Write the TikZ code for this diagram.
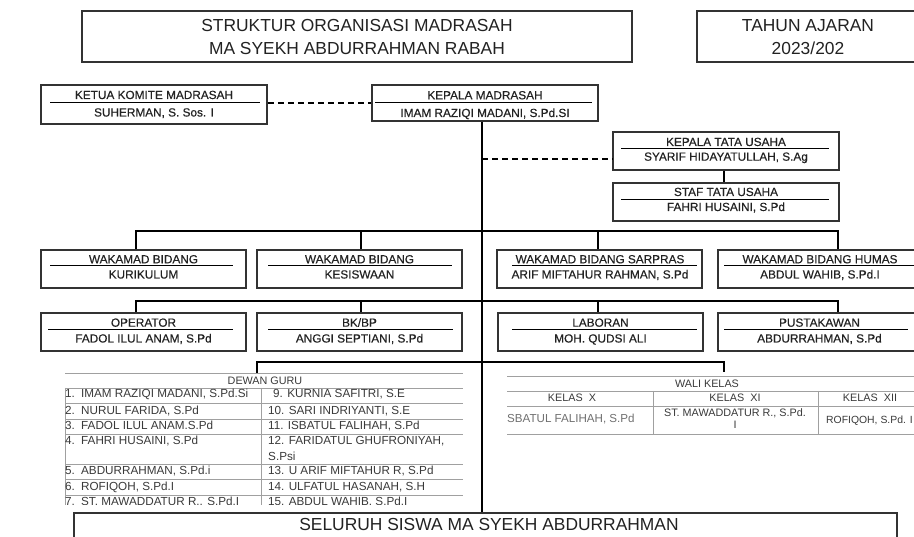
\documentclass[tikz,border=0pt]{standalone}
\usepackage{fontspec}
\setmainfont{Liberation Sans}
\newfontface\medfont{Liberation Sans}[FakeBold=0.35]
\definecolor{boxc}{HTML}{333333}
\definecolor{tabl}{HTML}{A0A0A0}
\definecolor{tabt}{HTML}{3A3A3A}
\definecolor{tabt2}{HTML}{707070}
\definecolor{lblc}{HTML}{222222}
\begin{document}
\begin{tikzpicture}[x=1pt,y=-1pt,
 box/.style={draw=boxc, line width=1.5pt, inner sep=0pt},
 sep/.style={draw=black, line width=1pt},
 conn/.style={draw=black, line width=1.8pt},
 dline/.style={draw=black, line width=1.3pt, dash pattern=on 6pt off 4pt},
 lbl/.style={inner sep=0pt, anchor=base, font=\medfont\fontsize{11.8}{13}\selectfont, text=lblc},
 big/.style={inner sep=0pt, anchor=base, font=\fontsize{17.4}{20}\selectfont, text=lblc},
 tl/.style={draw=tabl, line width=0.8pt},
 tt/.style={inner sep=0pt, anchor=base west, font=\fontsize{11.7}{13}\selectfont, text=tabt},
 wt/.style={inner sep=0pt, anchor=base, font=\fontsize{10.8}{13}\selectfont, text=tabt},
]
\useasboundingbox (0,0) rectangle (914,537);
\fill[white] (0,0) rectangle (914,537);

% ---------- title ----------
\node[box, minimum width=550pt, minimum height=51pt] (title) at (357,36.5) {};
\node[big] (t1) at (357,31.7) {STRUKTUR ORGANISASI MADRASAH};
\node[big] (t2) at (357,54.3) {MA SYEKH ABDURRAHMAN RABAH};
\node[box, minimum width=223pt, minimum height=51pt] (tahun) at (808.5,36.5) {};
\node[big] (ta1) at (808,31.7) {TAHUN AJARAN};
\node[big] (ta2) at (808,54.3) {2023/202};

% ---------- ketua komite & kepala ----------
\node[box, minimum width=226pt, minimum height=39pt] (ketua) at (154,104.5) {};
\draw[sep] (50,103) -- (260,103);
\node[lbl] (ketua1) at (154,99) {KETUA KOMITE MADRASAH};
\node[lbl] (ketua2) at (154,116.5) {SUHERMAN, S. Sos. I};

\node[box, minimum width=226pt, minimum height=36pt] (kepala) at (485,103) {};
\draw[sep] (375,103) -- (592,103);
\node[lbl] (kepala1) at (485,99.3) {KEPALA MADRASAH};
\node[lbl] (kepala2) at (485,117) {IMAM RAZIQI MADANI, S.Pd.SI};

\draw[dline] (ketua.east |- kepala.west) -- (kepala.west);

% ---------- tata usaha ----------
\node[box, minimum width=226pt, minimum height=38pt] (tu) at (726,151) {};
\draw[sep] (621,149) -- (829,149);
\node[lbl] (tu1) at (726,146) {KEPALA TATA USAHA};
\node[lbl] (tu2) at (726,160.7) {SYARIF HIDAYATULLAH, S.Ag};

\node[box, minimum width=226pt, minimum height=38pt] (staf) at (726,202) {};
\draw[sep] (621,200) -- (829,200);
\node[lbl] (staf1) at (726,196) {STAF TATA USAHA};
\node[lbl] (staf2) at (726,211) {FAHRI HUSAINI, S.Pd};

\draw[conn] ([xshift=-2pt]tu.south) -- ([xshift=-2pt]staf.north);

% ---------- seluruh siswa ----------
\node[box, minimum width=823pt, minimum height=40pt] (seluruh) at (485.5,533) {};
\node[big] (sel) at (489,530) {SELURUH SISWA MA SYEKH ABDURRAHMAN};

% main vertical
\draw[conn] ([xshift=-3pt]kepala.south) -- ([xshift=-3pt]kepala.south |- seluruh.north);
\draw[dline] ([xshift=-3pt]kepala.south |- 0,159) -- (tu.west |- 0,159);

% ---------- wakamad row ----------
\node[box, minimum width=205pt, minimum height=38pt] (w1) at (143.5,269) {};
\node[box, minimum width=205pt, minimum height=38pt] (w2) at (359.5,269) {};
\node[box, minimum width=205pt, minimum height=38pt] (w3) at (599.5,269) {};
\node[box, minimum width=205pt, minimum height=38pt] (w4) at (820.5,269) {};
\draw[sep] (50,266) -- (233,266);
\draw[sep] (268,266) -- (452,266);
\draw[sep] (512,266) -- (697,266);
\draw[sep] (724,266) -- (930,266);
\node[lbl] (w1a) at (143.5,263.3) {WAKAMAD BIDANG};
\node[lbl] (w1b) at (143.5,278.5) {KURIKULUM};
\node[lbl] (w2a) at (359.5,263.3) {WAKAMAD BIDANG};
\node[lbl] (w2b) at (359.5,278.5) {KESISWAAN};
\node[lbl] (w3a) at (600,263.3) {WAKAMAD BIDANG SARPRAS};
\node[lbl] (w3b) at (600,278.5) {ARIF MIFTAHUR RAHMAN, S.Pd};
\node[lbl] (w4a) at (820,263.3) {WAKAMAD BIDANG HUMAS};
\node[lbl] (w4b) at (820,278.5) {ABDUL WAHIB, S.Pd.I};

\draw[conn] ([xshift=-7.5pt]w1.north) -- ++(0,-18) -| ([xshift=17.5pt]w4.north);
\draw[conn] ([xshift=1.5pt]w2.north) -- ++(0,-18);
\draw[conn] ([xshift=-1.5pt]w3.north) -- ++(0,-18);

% ---------- second row ----------
\node[box, minimum width=205pt, minimum height=38pt] (r1) at (143.5,332) {};
\node[box, minimum width=205pt, minimum height=38pt] (r2) at (359.5,332) {};
\node[box, minimum width=205pt, minimum height=38pt] (r3) at (600.5,332) {};
\node[box, minimum width=205pt, minimum height=38pt] (r4) at (820.5,332) {};
\draw[sep] (48,330) -- (233,330);
\draw[sep] (268,330) -- (453,330);
\draw[sep] (512,330) -- (697,330);
\draw[sep] (724,330) -- (908,330);
\node[lbl] (r1a) at (143.5,326.7) {OPERATOR};
\node[lbl] (r1b) at (143.5,342.5) {FADOL ILUL ANAM, S.Pd};
\node[lbl] (r2a) at (359.5,326.7) {BK/BP};
\node[lbl] (r2b) at (359.5,342.5) {ANGGI SEPTIANI, S.Pd};
\node[lbl] (r3a) at (600.5,326.7) {LABORAN};
\node[lbl] (r3b) at (600.5,342.5) {MOH. QUDSI ALI};
\node[lbl] (r4a) at (819.5,326.7) {PUSTAKAWAN};
\node[lbl] (r4b) at (819.5,342.5) {ABDURRAHMAN, S.Pd};

\draw[conn] ([xshift=-7.5pt]r1.north) -- ++(0,-11) -| ([xshift=17.5pt]r4.north);
\draw[conn] ([xshift=1.5pt]r2.north) -- ++(0,-11);
\draw[conn] ([xshift=-2.5pt]r3.north) -- ++(0,-11);

% ---------- dewan guru ----------
\coordinate (dewtop) at (257,373);
\coordinate (waltop) at (724,372);
\draw[conn] (dewtop) -- ++(0,-11) -| (waltop);

\begin{scope}
\clip (60,368) rectangle (470,504.5);
\draw[tl] (65,373) -- (463,373);
\foreach \yy in {388,403,419,434,464,479,495} \draw[tl] (65,\yy) -- (463,\yy);
\draw[tl] (261,388) -- (261,505);
\draw[tl] (65,388) -- (65,505);
\node[wt] (dewan) at (265,384.5) {DEWAN GURU};
\node[tt] (g1) at (65,398) {\makebox[16pt][l]{1.}IMAM RAZIQI MADANI, S.Pd.Si};
\node[tt] (g2) at (65,415) {\makebox[16pt][l]{2.}NURUL FARIDA, S.Pd};
\node[tt] (g3) at (65,430) {\makebox[16pt][l]{3.}FADOL ILUL ANAM.S.Pd};
\node[tt] (g4) at (65,445) {\makebox[16pt][l]{4.}FAHRI HUSAINI, S.Pd};
\node[tt] (g5) at (65,475) {\makebox[16pt][l]{5.}ABDURRAHMAN, S.Pd.i};
\node[tt] (g6) at (65,491) {\makebox[16pt][l]{6.}ROFIQOH, S.Pd.I};
\node[tt] (g7) at (65,506) {\makebox[16pt][l]{7.}ST. MAWADDATUR R.. S.Pd.I};
\node[tt] (g9) at (268,398) {\hspace{5pt}9. KURNIA SAFITRI, S.E};
\node[tt] (g10) at (268,415) {10. SARI INDRIYANTI, S.E};
\node[tt] (g11) at (268,430) {11. ISBATUL FALIHAH, S.Pd};
\node[tt] (g12) at (268,445) {12. FARIDATUL GHUFRONIYAH,};
\node[tt] (g12b) at (268,461) {S.Psi};
\node[tt] (g13) at (268,475) {13. U ARIF MIFTAHUR R, S.Pd};
\node[tt] (g14) at (268,491) {14. ULFATUL HASANAH, S.H};
\node[tt] (g15) at (268,506) {15. ABDUL WAHIB. S.Pd.I};
\end{scope}

% ---------- wali kelas ----------
\foreach \yy in {376,391,406,434} \draw[tl] (507,\yy) -- (920,\yy);
\draw[tl] (653,391) -- (653,434);
\draw[tl] (818,391) -- (818,434);
\node[wt] (wali) at (707,387.5) {WALI KELAS};
\node[wt] (k10) at (572,402) {KELAS\ \ X};
\node[wt] (k11) at (735,402) {KELAS\ \ XI};
\node[wt] (k12) at (870,402) {KELAS\ \ XII};
\node[wt, anchor=base west, text=tabt2, font=\fontsize{11.6}{13}\selectfont] (wk10) at (507,423) {SBATUL FALIHAH, S.Pd};
\node[wt] (wk11) at (735,417) {ST. MAWADDATUR R., S.Pd.};
\node[wt] (wk11b) at (735,429) {I};
\node[wt, anchor=base west, font=\fontsize{10.4}{13}\selectfont] (wk12) at (826,424) {ROFIQOH, S.Pd. I};

\end{tikzpicture}
\end{document}
